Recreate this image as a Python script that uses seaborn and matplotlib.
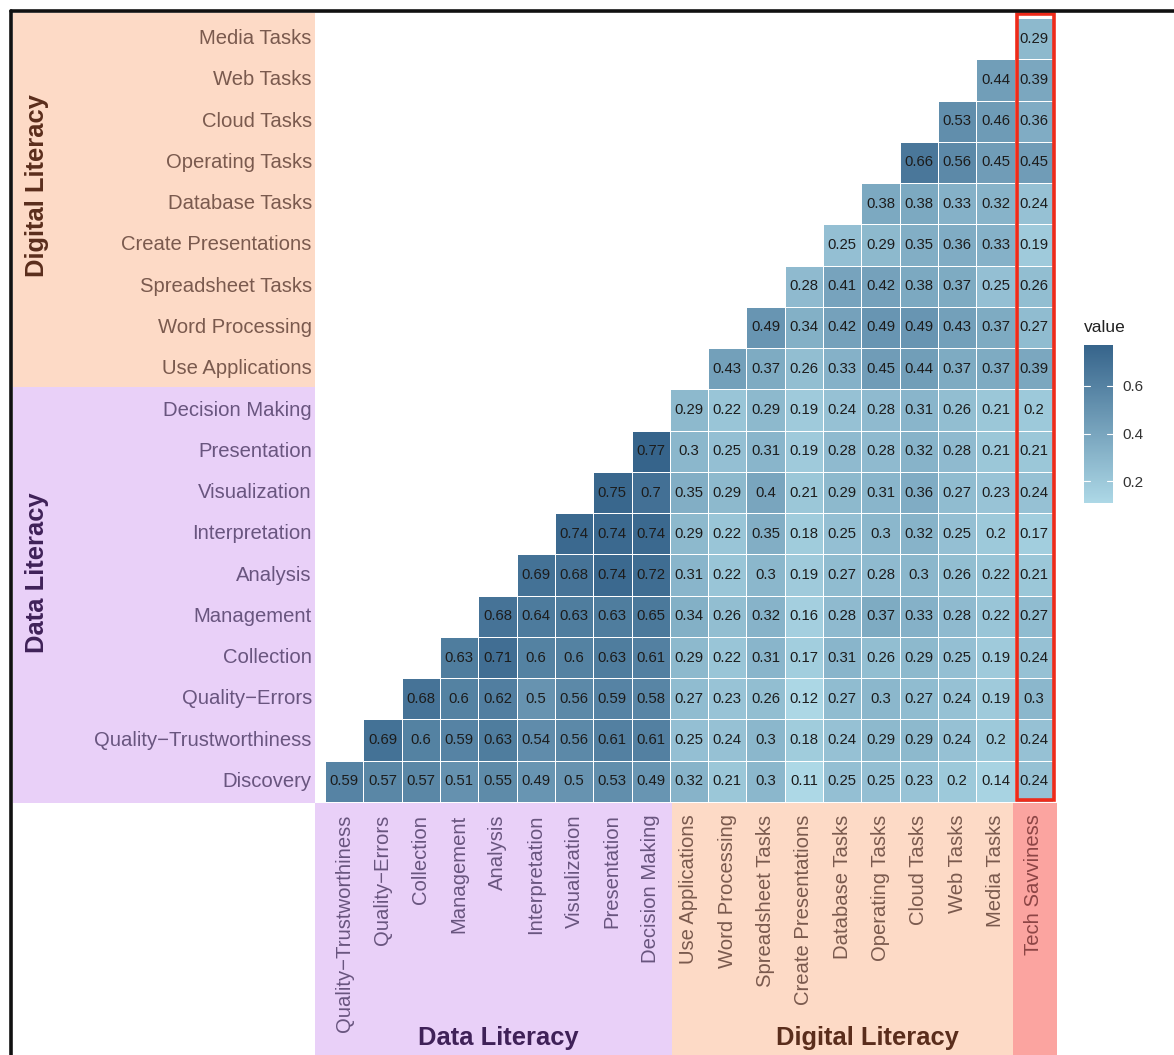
import numpy as np
import pandas as pd
import matplotlib
matplotlib.use("Agg")
import matplotlib.pyplot as plt
from matplotlib.colors import LinearSegmentedColormap
from matplotlib.patches import Rectangle
from matplotlib.lines import Line2D
import seaborn as sns

sns.set_theme(style="white")
plt.rcParams["font.family"] = ["Liberation Sans", "DejaVu Sans"]

# Skill names, listed from the bottom row upwards
data_skills = ["Discovery", "Quality\u2212Trustworthiness", "Quality\u2212Errors",
               "Collection", "Management", "Analysis", "Interpretation",
               "Visualization", "Presentation", "Decision Making"]
digital_skills = ["Use Applications", "Word Processing", "Spreadsheet Tasks",
                  "Create Presentations", "Database Tasks", "Operating Tasks",
                  "Cloud Tasks", "Web Tasks", "Media Tasks"]
outcome = "Tech Savviness"

# Lower-triangle correlations; each row starts at its own diagonal column
r_discovery = [0.59, 0.57, 0.57, 0.51, 0.55, 0.49, 0.5, 0.53, 0.49,
               0.32, 0.21, 0.3, 0.11, 0.25, 0.25, 0.23, 0.2, 0.14, 0.24]
r_quality_trust = [0.69, 0.6, 0.59, 0.63, 0.54, 0.56, 0.61, 0.61,
                   0.25, 0.24, 0.3, 0.18, 0.24, 0.29, 0.29, 0.24, 0.2, 0.24]
r_quality_err = [0.68, 0.6, 0.62, 0.5, 0.56, 0.59, 0.58,
                 0.27, 0.23, 0.26, 0.12, 0.27, 0.3, 0.27, 0.24, 0.19, 0.3]
r_collection = [0.63, 0.71, 0.6, 0.6, 0.63, 0.61,
                0.29, 0.22, 0.31, 0.17, 0.31, 0.26, 0.29, 0.25, 0.19, 0.24]
r_management = [0.68, 0.64, 0.63, 0.63, 0.65,
                0.34, 0.26, 0.32, 0.16, 0.28, 0.37, 0.33, 0.28, 0.22, 0.27]
r_analysis = [0.69, 0.68, 0.74, 0.72,
              0.31, 0.22, 0.3, 0.19, 0.27, 0.28, 0.3, 0.26, 0.22, 0.21]
r_interpretation = [0.74, 0.74, 0.74,
                    0.29, 0.22, 0.35, 0.18, 0.25, 0.3, 0.32, 0.25, 0.2, 0.17]
r_visualization = [0.75, 0.7,
                   0.35, 0.29, 0.4, 0.21, 0.29, 0.31, 0.36, 0.27, 0.23, 0.24]
r_presentation = [0.77,
                  0.3, 0.25, 0.31, 0.19, 0.28, 0.28, 0.32, 0.28, 0.21, 0.21]
r_decision = [0.29, 0.22, 0.29, 0.19, 0.24, 0.28, 0.31, 0.26, 0.21, 0.2]
r_use_apps = [0.43, 0.37, 0.26, 0.33, 0.45, 0.44, 0.37, 0.37, 0.39]
r_word = [0.49, 0.34, 0.42, 0.49, 0.49, 0.43, 0.37, 0.27]
r_spreadsheet = [0.28, 0.41, 0.42, 0.38, 0.37, 0.25, 0.26]
r_create_pres = [0.25, 0.29, 0.35, 0.36, 0.33, 0.19]
r_database = [0.38, 0.38, 0.33, 0.32, 0.24]
r_operating = [0.66, 0.56, 0.45, 0.45]
r_cloud = [0.53, 0.46, 0.36]
r_web = [0.44, 0.39]
r_media = [0.29]

rows_up = data_skills + digital_skills
cols = rows_up[1:] + [outcome]
row_values = [r_discovery, r_quality_trust, r_quality_err, r_collection,
              r_management, r_analysis, r_interpretation, r_visualization,
              r_presentation, r_decision, r_use_apps, r_word, r_spreadsheet,
              r_create_pres, r_database, r_operating, r_cloud, r_web, r_media]

n = len(rows_up)
grid = np.full((n, len(cols)), np.nan)
for k, vals in enumerate(row_values):
    grid[k, k:k + len(vals)] = vals
df = pd.DataFrame(grid, index=rows_up, columns=cols).iloc[::-1]
labels = df.apply(lambda c: c.map(lambda v: "" if np.isnan(v) else f"{v:g}"))

# Colours
PEACH, LAVENDER, SALMON = "#FDDAC6", "#E9D0F8", "#FBA4A0"
PEACH_TXT, LAV_TXT, SALMON_TXT = "#7A5A4E", "#69557F", "#8C4545"
cmap = LinearSegmentedColormap.from_list("blues", ["#ADD8E6", "#36648B"])

W, H = 1174, 1055
fig = plt.figure(figsize=(W / 100, H / 100), dpi=100)


def frac(x0, y0, x1, y1):
    """Pixel box (top-left origin) -> figure-fraction rect."""
    return [x0 / W, 1 - y1 / H, (x1 - x0) / W, (y1 - y0) / H]


def panel(x0, y0, x1, y1, color):
    l, b, w, h = frac(x0, y0, x1, y1)
    fig.patches.append(Rectangle((l, b), w, h, transform=fig.transFigure,
                                 facecolor=color, edgecolor="none", zorder=-5))


# Group background bands behind the tick labels
panel(13, 13, 315, 387, PEACH)
panel(13, 387, 315, 803, LAVENDER)
panel(315, 803, 672, H, LAVENDER)
panel(672, 803, 1013, H, PEACH)
panel(1013, 803, 1057, H, SALMON)

ax = fig.add_axes(frac(325, 18, 1053, 802))
ax.patch.set_alpha(0)
cax = fig.add_axes(frac(1084, 345, 1113, 503))

sns.heatmap(df, ax=ax, cmap=cmap, vmin=0.11, vmax=0.77,
            annot=labels, fmt="",
            annot_kws=dict(size=10.7, color="#1c1c1c"),
            linewidths=0.5, linecolor="#ffffff",
            cbar_ax=cax, cbar_kws=dict(ticks=[0.2, 0.4, 0.6]))

ax.set_xlabel("")
ax.set_ylabel("")
ax.set_xticklabels(cols, rotation=90, fontsize=14.6)
ax.set_yticklabels(list(df.index), rotation=0, fontsize=14.6)
ax.tick_params(axis="both", length=0)
ax.tick_params(axis="y", pad=9.5)
ax.tick_params(axis="x", pad=9)

for t in ax.get_yticklabels():
    t.set_color(LAV_TXT if t.get_text() in data_skills else PEACH_TXT)
for t in ax.get_xticklabels():
    txt = t.get_text()
    if txt == outcome:
        t.set_color(SALMON_TXT)
    elif txt in data_skills:
        t.set_color(LAV_TXT)
    else:
        t.set_color(PEACH_TXT)

# Highlight the outcome column
ax.add_patch(Rectangle((18.05, -0.1), 0.98, 19.05, fill=False,
                       edgecolor="#EE2B1A", lw=2.6, clip_on=False, zorder=6))

# Colour bar styling
cax.tick_params(length=0, labelsize=11, colors="#333333", pad=7)
for tv in [0.2, 0.4, 0.6]:
    cax.axhline(tv, xmin=0, xmax=0.2, color="white", lw=0.8)
    cax.axhline(tv, xmin=0.8, xmax=1, color="white", lw=0.8)
fig.text(1084 / W, 1 - 327 / H, "value", fontsize=12.5, color="#222222",
         ha="left", va="center")

# Group titles
fig.text(37 / W, 1 - 186 / H, "Digital Literacy", rotation=90, fontsize=18.4,
         fontweight="bold", color="#5A2D1C", ha="center", va="center")
fig.text(37 / W, 1 - 573 / H, "Data Literacy", rotation=90, fontsize=18.4,
         fontweight="bold", color="#3F2158", ha="center", va="center")
fig.text(498 / W, 1 - 1038 / H, "Data Literacy", fontsize=18.4,
         fontweight="bold", color="#3F2158", ha="center", va="center")
fig.text(867 / W, 1 - 1038 / H, "Digital Literacy", fontsize=18.4,
         fontweight="bold", color="#5A2D1C", ha="center", va="center")

# Outer frame
fig.add_artist(Line2D([11 / W, 1], [1 - 11 / H, 1 - 11 / H],
                      transform=fig.transFigure, color="#111111", lw=2.6))
fig.add_artist(Line2D([11 / W, 11 / W], [0, 1 - 11 / H],
                      transform=fig.transFigure, color="#111111", lw=2.6))

fig.savefig("out.png", dpi=100, facecolor="white")
